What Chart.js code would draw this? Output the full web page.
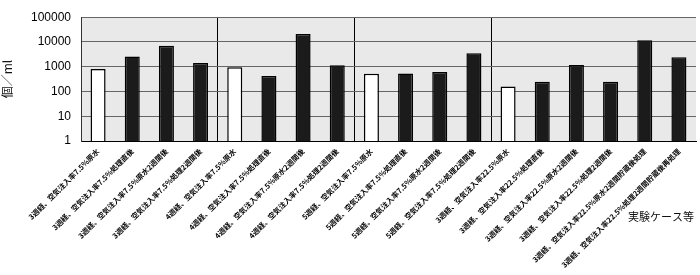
<!DOCTYPE html>
<html lang="ja">
<head>
<meta charset="utf-8">
<title>実験ケース別 個／ml</title>
<script src="https://cdn.jsdelivr.net/npm/chart.js@4.4.1/dist/chart.umd.min.js"></script>
<style>
  html, body { margin: 0; padding: 0; background: #fff; }
  #wrap { width: 700px; height: 275px; position: relative; }
</style>
</head>
<body>
<div id="wrap"><canvas id="caseChart"></canvas></div>
<script>
/* ── Data ──────────────────────────────────────────────── */
const CASES = [
  "3週経、空気注入率7.5%原水",
  "3週経、空気注入率7.5%処理直後",
  "3週経、空気注入率7.5%原水2週間後",
  "3週経、空気注入率7.5%処理2週間後",
  "4週経、空気注入率7.5%原水",
  "4週経、空気注入率7.5%処理直後",
  "4週経、空気注入率7.5%原水2週間後",
  "4週経、空気注入率7.5%処理2週間後",
  "5週経、空気注入率7.5%原水",
  "5週経、空気注入率7.5%処理直後",
  "5週経、空気注入率7.5%原水2週間後",
  "5週経、空気注入率7.5%処理2週間後",
  "3週経、空気注入率22.5%原水",
  "3週経、空気注入率22.5%処理直後",
  "3週経、空気注入率22.5%原水2週間後",
  "3週経、空気注入率22.5%処理2週間後",
  "3週経、空気注入率22.5%原水2週間貯蔵後処理",
  "3週経、空気注入率22.5%処理2週間貯蔵後再処理",
];

const COUNTS = [
  800, 2600, 7000, 1400,
  950, 420, 21000, 1150,
  520, 530, 610, 3500,
  160, 250, 1180, 245, 11700, 2400,
];

const Y_TICKS      = [1, 10, 100, 1000, 10000, 100000];
const GROUP_BREAKS = [4, 8, 12];   // category index where a new 実験ケース group starts

const Y_TITLE = "個／ml";
const X_TITLE = "実験ケース等";

/* ── Styles ────────────────────────────────────────────── */
const BAR_DARK  = "#1b1b1b";
const BAR_LIGHT = "#ffffff";
const PLOT_BG   = "#e9e9e9";
const GRID      = "#666666";

// raw-water bars (label ends with 原水) are drawn hollow
const barFill = CASES.map(c => c.endsWith("原水") ? BAR_LIGHT : BAR_DARK);

/* ── Plugins ───────────────────────────────────────────── */
const plotBackground = {
  id: "plotBackground",
  beforeDraw(chart) {
    const { ctx, chartArea: a } = chart;
    ctx.save();
    ctx.fillStyle = PLOT_BG;
    ctx.fillRect(a.left, a.top, a.right - a.left, a.bottom - a.top);
    ctx.restore();
  },
};

const xTitle = {
  id: "xTitle",
  afterDraw(chart) {
    const { ctx } = chart;
    ctx.save();
    ctx.font = "11px 'Noto Sans CJK JP'";
    ctx.fillStyle = "#111";
    ctx.textAlign = "left";
    ctx.textBaseline = "middle";
    ctx.fillText(X_TITLE, 628, 217);
    ctx.restore();
  },
};

/* ── Chart ─────────────────────────────────────────────── */
new Chart(document.getElementById("caseChart"), {
  type: "bar",
  data: {
    labels: CASES,
    datasets: [{
      data: COUNTS,
      backgroundColor: barFill,
      borderColor: "#000",
      borderWidth: 1.5,
      barPercentage: 0.44,
      categoryPercentage: 1,
    }],
  },
  options: {
    responsive: true,
    maintainAspectRatio: false,
    animation: false,
    layout: { padding: { top: 7, right: 4, left: 0, bottom: 0 } },
    plugins: {
      legend: { display: false },
      tooltip: { enabled: false },
    },
    scales: {
      x: {
        grid: {
          offset: true,
          drawTicks: false,
          lineWidth: 1,
          color: ctx => {
            if (GROUP_BREAKS.includes(ctx.index)) return "#000";
            if (ctx.index === CASES.length) return GRID;
            return "rgba(0,0,0,0)";
          },
        },
        border: { color: "#000", width: 1 },
        ticks: {
          autoSkip: false,
          maxRotation: 45,
          minRotation: 45,
          padding: 6,
          color: "#000",
          font: { family: "'Noto Sans CJK JP'", size: 7.4, weight: "bold" },
        },
        afterFit: scale => { scale.height = 134; },
      },
      y: {
        type: "logarithmic",
        min: 1,
        max: 100000,
        afterBuildTicks: scale => {
          scale.ticks = Y_TICKS.map(v => ({ value: v }));
        },
        grid: { color: GRID, drawTicks: false },
        border: { color: "#333", width: 1 },
        ticks: {
          padding: 10,
          color: "#000",
          font: { family: "'Liberation Sans', Arial", size: 12 },
          callback: v => String(v),
        },
        title: {
          display: true,
          text: Y_TITLE,
          color: "#111",
          padding: { top: 0, bottom: 0 },
          font: { family: "'Noto Sans CJK JP'", size: 12 },
        },
        afterFit: scale => { scale.width = 81; },
      },
    },
  },
  plugins: [plotBackground, xTitle],
});
</script>
</body>
</html>
